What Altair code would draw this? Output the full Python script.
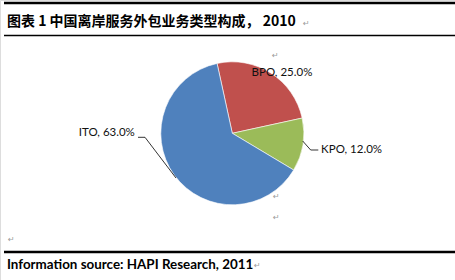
import math
import altair as alt
import pandas as pd

# ---- data ----
categories = ["BPO", "KPO", "ITO"]
shares = [25.0, 12.0, 63.0]
colors = ["#C0504D", "#9BBB59", "#4F81BD"]
title_text = "图表 1 中国离岸服务外包业务类型构成， 2010"
source_text = "Information source: HAPI Research, 2011"

df = pd.DataFrame({
    "cat": categories,
    "share": shares,
    "idx": list(range(len(categories))),
    "label": [f"{c}, {v:.1f}%" for c, v in zip(categories, shares)],
})

# ---- layout ----
CX, CY = 232.3, 133.3
START = math.radians(-12.3)
theta_scale = alt.Scale(domain=[0, 100], range=[START, START + 2 * math.pi])
LABEL_FONT = "Lato"

pie = alt.Chart(df).mark_arc(outerRadius=71.5, stroke="white", strokeWidth=0.6).encode(
    theta=alt.Theta("share:Q", stack=True, scale=theta_scale),
    order=alt.Order("idx:Q"),
    color=alt.Color("cat:N", scale=alt.Scale(domain=categories, range=colors), legend=None),
    x=alt.value(CX),
    y=alt.value(CY),
)


def label_layer(cat, radius, align, dx, dy):
    return (
        alt.Chart(df)
        .transform_window(cum="sum(share)", sort=[alt.SortField("idx")])
        .transform_calculate(mid="datum.cum - datum.share / 2")
        .transform_filter(alt.datum.cat == cat)
        .mark_text(radius=radius, align=align, baseline="middle", dx=dx, dy=dy,
                   font=LABEL_FONT, fontSize=11.5, color="#111111")
        .encode(theta=alt.Theta("mid:Q", stack=None, scale=theta_scale), text="label:N",
                x=alt.value(CX), y=alt.value(CY))
    )


labels = [
    label_layer("BPO", 72, "center", 10.8, 0.3),
    label_layer("KPO", 90, "left", 0, 2.2),
    label_layer("ITO", 120, "right", 0, -70),
]

one = pd.DataFrame({"a": [0]})


def seg(x1, y1, x2, y2, w=0.8, color="#000000"):
    return alt.Chart(one).mark_rule(strokeWidth=w, color=color).encode(
        x=alt.value(x1), y=alt.value(y1), x2=alt.value(x2), y2=alt.value(y2)
    )


leaders = [
    seg(138, 137.3, 145, 137.3),
    seg(145, 137.3, 176, 178),
    seg(302.7, 141, 310.7, 150),
    seg(310.7, 150, 318.3, 150),
]

rules = [
    seg(4, 3, 455, 3, 2.6),
    seg(4, 35.5, 455, 35.5, 1.3),
    seg(4, 252, 455, 252, 2.6),
]


def txt(s, x, y, size, font, weight="normal", color="#000000", align="left"):
    return alt.Chart(pd.DataFrame({"t": [s]})).mark_text(
        align=align, baseline="middle", fontSize=size, font=font, fontWeight=weight, color=color
    ).encode(text="t:N", x=alt.value(x), y=alt.value(y))


texts = [
    txt(title_text, 7, 22, 14, "Noto Sans CJK SC", "bold"),
    txt(source_text, 7, 265, 13.4, LABEL_FONT, "bold"),
]

returns = [
    (303, 24), (272, 56), (273, 197), (273, 218), (8, 240), (254, 266),
]
ret_marks = [txt("↵", x, y, 8, "DejaVu Sans", color="#9a9a9a") for x, y in returns]

chart = alt.layer(pie, *labels, *leaders, *rules, *texts, *ret_marks).properties(
    width=455,
    height=280,
    autosize=alt.AutoSizeParams(type="none"),
    padding=0,
).configure_view(stroke=None).configure(background="white")

chart.save("out.html", embed_options={"renderer": "svg", "actions": False})
